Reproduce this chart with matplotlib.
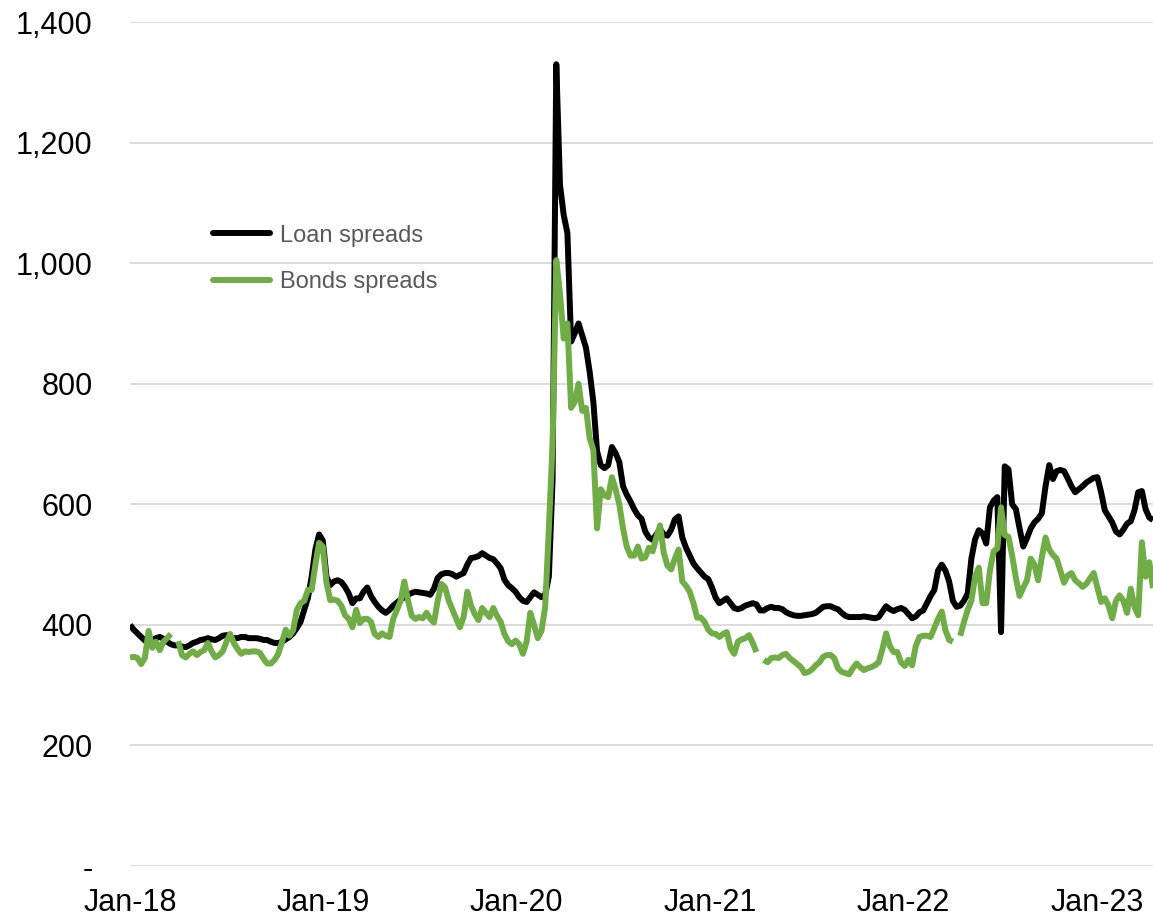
import matplotlib
matplotlib.use("Agg")
import matplotlib.pyplot as plt
import matplotlib.dates as mdates
import matplotlib.ticker as mticker
import numpy as np
import pandas as pd

plt.rcParams['font.family'] = ['Liberation Sans', 'DejaVu Sans']

# weekly observations starting the first week of Jan-18
start_date = "2018-01-01"

loan_spreads = [
    # 2018
    400, 392, 386, 380, 374, 371, 375, 378, 380, 377, 372, 368, 366, 366, 364, 363,
    366, 370, 372, 375, 376, 378, 376, 375, 378, 382, 383, 380, 378, 378, 380, 380,
    378, 378, 378, 377, 375, 375, 372, 370, 370, 372, 376, 380, 386, 395, 405, 425,
    445, 480, 525, 550, 540,
    # 2019
    480, 466, 472, 474, 471, 463, 452, 436, 444, 444, 455, 462, 448, 438, 430, 424,
    420, 425, 432, 437, 442, 446, 450, 453, 455, 454, 453, 452, 450, 460, 478, 484,
    486, 486, 484, 480, 483, 486, 500, 511, 512, 514, 519, 515, 511, 509, 502, 494,
    475, 466, 461,
    # 2020
    455, 446, 440, 438, 446, 454, 450, 446, 450, 480, 640, 1330, 1130, 1080, 1050, 870,
    884, 900, 880, 860, 820, 770, 688, 665, 660, 665, 695, 685, 670, 630, 616, 605,
    592, 582, 576, 555, 545, 541, 550, 559, 550, 548, 558, 575, 580, 545, 528, 515,
    502, 494, 487, 480, 476, 462, 445, 436,
    # 2021
    440, 444, 436, 428, 426, 428, 432, 434, 436, 434, 424, 424, 428, 430, 428, 428,
    426, 421, 418, 416, 415, 415, 416, 417, 418, 420, 425, 430, 431, 431, 428, 426,
    420, 415, 413, 413, 413, 413, 414, 413, 412, 411, 413, 422, 431, 426, 423, 426,
    428,
    # 2022
    425, 418, 411, 414, 421, 424, 436, 448, 458, 490, 500, 490, 472, 440, 430, 432,
    440, 452, 510, 542, 557, 552, 535, 595, 606, 612, 388, 663, 658, 600, 592, 560,
    530, 544, 560, 570, 576, 585, 630, 665, 642, 655, 657, 655, 643, 630, 620, 625,
    630, 636, 640, 644,
    # 2023
    645, 620, 590, 580, 570, 555, 550, 558, 568, 572, 590, 620, 622, 592, 578, 574,
]

bond_spreads = [
    # 2018
    346, 347, 345, 335, 345, 390, 362, 372, 358, 372, 378, 385, None, 373, 350, 346,
    352, 356, 350, 355, 358, 370, 356, 346, 350, 356, 372, 385, 370, 360, 352, 356,
    355, 356, 356, 354, 344, 336, 336, 342, 352, 372, 392, 382, 391, 425, 436, 440,
    458, 458, 500, 536, 530,
    # 2019
    470, 441, 442, 440, 432, 416, 410, 396, 425, 403, 410, 410, 405, 385, 380, 386,
    382, 380, 410, 425, 440, 472, 440, 415, 410, 413, 411, 420, 410, 404, 440, 468,
    462, 440, 425, 410, 396, 413, 455, 432, 418, 408, 428, 420, 413, 428, 415, 405,
    385, 373, 368,
    # 2020
    374, 368, 352, 372, 420, 400, 378, 390, 430, 560, 700, 1005, 950, 875, 900, 760,
    770, 800, 755, 760, 710, 690, 560, 625, 615, 612, 645, 625, 600, 560, 530, 515,
    515, 530, 510, 512, 528, 522, 545, 565, 520, 498, 492, 510, 525, 472, 465, 455,
    436, 412, 412, 405, 392, 386, 385, 380,
    # 2021
    385, 388, 362, 352, 372, 376, 378, 383, 370, 355, None, 342, 338, 345, 346, 345,
    350, 352, 345, 340, 335, 330, 320, 322, 326, 333, 338, 347, 350, 350, 345, 328,
    322, 320, 318, 328, 336, 330, 325, 328, 330, 333, 338, 360, 386, 365, 355, 355,
    338,
    # 2022
    332, 342, 333, 365, 380, 382, 382, 380, 395, 410, 422, 391, 375, 372, None, 382,
    405, 425, 440, 480, 495, 436, 436, 490, 522, 527, 595, 549, 546, 515, 478, 448,
    462, 474, 510, 500, 474, 512, 545, 525, 516, 510, 490, 470, 482, 486, 474, 469,
    463, 468, 477, 486,
    # 2023
    462, 438, 444, 432, 411, 440, 449, 440, 420, 460, 430, 416, 537, 480, 504, 461,
]

dates = pd.date_range(start_date, periods=len(loan_spreads), freq="7D")
bond_arr = np.array([np.nan if v is None else v for v in bond_spreads], dtype=float)

fig = plt.figure(figsize=(11.53, 9.22), dpi=100)
ax = fig.add_axes([0.1128, 0.0607, 0.8872, 0.9154])

ax.plot(dates, loan_spreads, color="black", lw=4.3, solid_joinstyle="round",
        solid_capstyle="butt", label="Loan spreads", zorder=3)
ax.plot(dates, bond_arr, color="#70AD47", lw=4.3, solid_joinstyle="round",
        solid_capstyle="butt", label="Bonds spreads", zorder=4)

ax.set_ylim(0, 1400)
ax.set_xlim(dates[0], dates[-1])
ax.yaxis.set_major_locator(mticker.MultipleLocator(200))
ax.yaxis.set_major_formatter(
    mticker.FuncFormatter(lambda v, p: "-" if v == 0 else f"{v:,.0f}"))
ax.xaxis.set_major_locator(mdates.YearLocator(month=1, day=1))
ax.xaxis.set_major_formatter(mdates.DateFormatter("%b-%y"))

ax.grid(axis="y", color="#d9d9d9", lw=1.3)
ax.set_axisbelow(True)
for s in ax.spines.values():
    s.set_visible(False)
ax.tick_params(axis="both", length=0, labelsize=22, colors="black")
ax.tick_params(axis="y", pad=27)
ax.tick_params(axis="x", pad=16)

leg = ax.legend(loc="upper left", bbox_to_anchor=(0.081, 0.76), frameon=False,
                fontsize=17, handlelength=2.4, handletextpad=0.45,
                labelspacing=1.05, borderpad=0, borderaxespad=0)
for t in leg.get_texts():
    t.set_color("#595959")
for h in leg.get_lines():
    h.set_solid_capstyle("round")

fig.savefig("out.png", dpi=100)
